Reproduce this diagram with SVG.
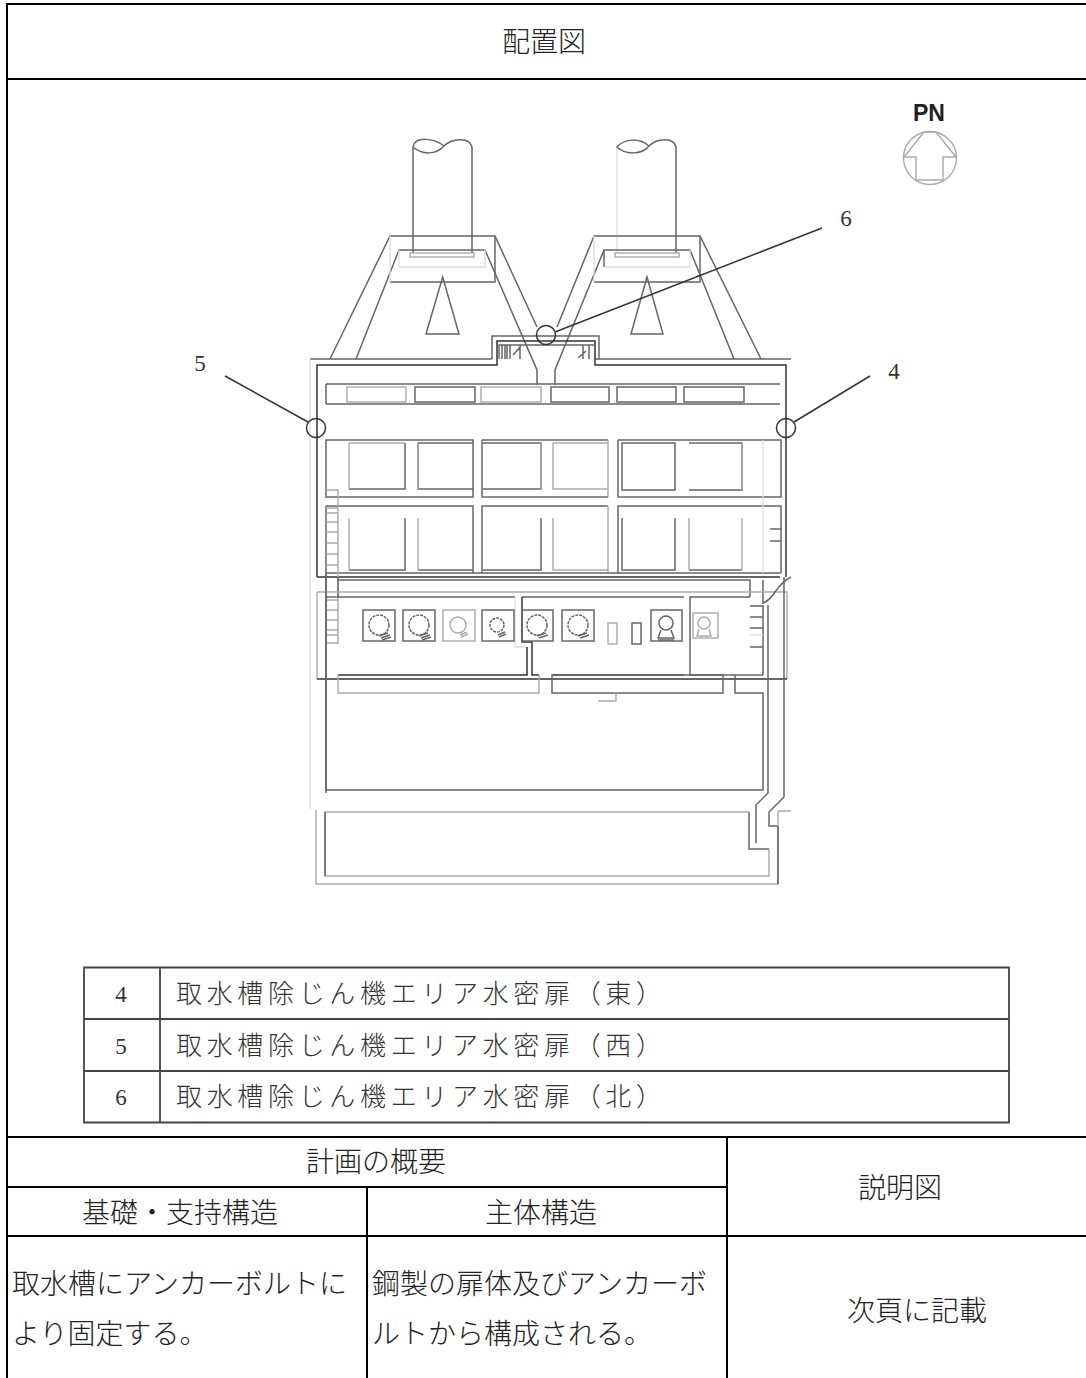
<svg xmlns="http://www.w3.org/2000/svg" width="1086" height="1378" viewBox="0 0 1086 1378">
<style>
.j{font-family:"Noto Sans CJK JP","Liberation Serif",serif;font-size:28px;fill:#222;font-weight:300}
.n{font-family:"Liberation Serif",serif;font-size:23px;fill:#333;text-anchor:middle}
.k{font-family:"Noto Sans CJK JP",serif;font-size:26px;fill:#333;font-weight:300}
.m{text-anchor:middle}
.d{fill:none;stroke:#666;stroke-width:1.5}
.l{fill:none;stroke:#aaa;stroke-width:1.4}
.x{fill:none;stroke:#ddd;stroke-width:1.3}
.b{fill:none;stroke:#333;stroke-width:1.5}
.t{stroke:#000;stroke-width:2;fill:none}
</style>
<rect width="1086" height="1378" fill="#fff"/>
<g id="frame">
<path class="t" d="M7 4H1086M7 3V1378M7 79H1086M7 1137H1086M7 1187H727M367 1187V1378M727 1137V1378M7 1236H1086"/>
</g>
<g id="titles">
<text class="j m" x="544" y="52">配置図</text>
<text class="j m" x="376" y="1172">計画の概要</text>
<text class="j m" x="180" y="1223">基礎・支持構造</text>
<text class="j m" x="541" y="1223">主体構造</text>
<text class="j m" x="900" y="1198">説明図</text>
<text class="j" x="12" y="1294">取水槽にアンカーボルトに</text>
<text class="j" x="12" y="1344">より固定する。</text>
<text class="j" x="372" y="1294">鋼製の扉体及びアンカーボ</text>
<text class="j" x="372" y="1344">ルトから構成される。</text>
<text class="j m" x="917" y="1321">次頁に記載</text>
</g>
<g id="north">
<text x="929" y="121" text-anchor="middle" font-family="Liberation Sans,sans-serif" font-weight="700" font-size="23" fill="#222">PN</text>
<circle class="l" cx="930" cy="158" r="26.5"/>
<path class="l" d="M924 132H936L956 157H943V180H916V157H904Z"/>
</g>
<g id="plan">
<path class="d" d="M413 147V253M472 147V253"/>
<path class="d" d="M413 147C415 136 434 138 444 146C452 138 470 137 472 147M413 147C422 155 436 155 444 146"/>
<path class="x" d="M617 147V253"/>
<path class="d" d="M676 147V253M676 147C674 137 657 138 649 146C642 155 625 155 617 147C625 138 640 138 649 146"/>
<path class="d" d="M330 359L390 236H495L537 327M356 359L399 250H485L537 370V385"/>
<path class="d" d="M390 282H495V236"/>
<path class="x" d="M390 236V282M399 250V267H485V250"/>
<rect class="l" x="410" y="253" width="64" height="4"/>
<path class="d" d="M761 359L700 236H594L557 327M734 359L690 250H604L555 370V385"/>
<path class="d" d="M594 282H700V236M604 250V267"/>
<path class="x" d="M594 236V282M604 267H690V250"/>
<rect class="l" x="615" y="253" width="64" height="4"/>
<path class="d" d="M442.700 277L426 334H459ZM647 277L631 334H663Z"/>
<path class="d" d="M310 359H492M595 359H791"/>
<path class="d" d="M492 359V336H599V359"/>
<path class="b" d="M317 577V365H497V341H595V365H786V577M317 577H780"/>
<path class="x" d="M310 359V809"/>
<path class="d" d="M499 359V345H594M502 359V345M505 359V345M507 359V345M510 359V345M520 359V345M513 355L521 346M583 359V345M589 359V345M586 351L578 358"/>
<path class="d" d="M326 384H780M326 404H780M326 384V404"/>
<rect class="l" x="347" y="387" width="59" height="15"/>
<rect class="d" x="415" y="387" width="60" height="15"/>
<rect class="l" x="481" y="387" width="60" height="15"/>
<rect class="d" x="551" y="387" width="58" height="15"/>
<rect class="d" x="617" y="387" width="59" height="15"/>
<rect class="d" x="684" y="387" width="60" height="15"/>
<path class="d" d="M326 497V440H473V497ZM482 440H608M618 440H781V497H618V440M482 440V497H608M326 506H473V573M482 573V506H608M618 573V506H781V573M326 506V793"/>
<path class="l" d="M608 440V497M608 506V573"/>
<path class="d" d="M326 573H781"/>
<path class="x" d="M763 440V573"/>
<path class="d" d="M405 443V489H349M622 443H675V490H622ZM689 443H742V490H689M473 443H418V489H473M483 489H541V443H483"/>
<path class="l" d="M349 443V489M349 443H405M418 443V489M541 443V489M553 443H608M553 443V489H608M742 443V490"/>
<path class="d" d="M405 518V570H349M473 570H418M483 570H541V518M622 518V570H675V518M689 570H742"/>
<path class="l" d="M349 518V570M418 518V570M553 518V570H608M689 518V570M742 518V570"/>
<path class="l" d="M326 490H338V643H326M326 508H338M326 513H338M326 522H338M326 532H338M326 543H338M326 554H338M326 565H338M326 600H338M326 610H338M326 620H338M326 630H338M326 635H338"/>
<path class="d" d="M338 577V597M770 529H781M770 541H781"/>
<path class="d" d="M338 580H750V597M763 580V604"/>
<path class="l" d="M317 592H787V679M317 592V679"/>
<path class="b" d="M317 679H787"/>
<path class="d" d="M326 597H515M522 597H684"/>
<path class="x" d="M515 597V647H527"/>
<path class="b" d="M527 647V675H338M522 597V642H532V675H539M553 675H684"/>
<path class="d" d="M750 597H690V675H763M763 605V675M750 606H763M750 617H763M750 628H763M750 647H763"/>
<path class="x" d="M750 635H763"/>
<path class="d" d="M763 603C768 601 772 597 775 592C780 585 785 580 791 577"/>
<path class="l" d="M338 675V693H539V675"/>
<rect class="d" x="552" y="675" width="171" height="18"/>
<path class="l" d="M598 701H616V693"/>
<path class="d" d="M735 675V693H763V790H326V573M768 605V793L756 805V843M784 577V797L769 812V826H778M749 812V849H769"/>
<path class="l" d="M769 849V876H325V812H749M778 811H791M778 811V884H316V810"/>
<path class="d" d="M325 812V876M778 826V884"/>
<g id="pumps">
<g class="d"><rect x="363" y="610" width="32" height="31"/><circle cx="379" cy="625" r="10" stroke-dasharray="3 1"/><path d="M379 636L388 633M381 638L390 635M382 640L391 637"/></g>
<g class="d"><rect x="403" y="610" width="32" height="31"/><circle cx="419" cy="625" r="10" stroke-dasharray="3 1"/><path d="M419 636L428 633M421 638L430 635M422 640L431 637"/></g>
<g class="l"><rect x="443" y="610" width="32" height="31"/><circle cx="458" cy="625" r="8"/><path d="M460 635L467 632M461 637L468 634"/></g>
<g class="d"><rect x="482" y="610" width="32" height="31"/><circle cx="497" cy="625" r="7" stroke-dasharray="3 1"/><path d="M498 635L505 632M499 637L506 634"/></g>
<g class="d"><rect x="522" y="610" width="31" height="31"/><circle cx="537" cy="625" r="10" stroke-dasharray="3 1"/><path d="M537 636L546 633M539 638L548 635"/></g>
<g class="d"><rect x="562" y="610" width="32" height="31"/><circle cx="578" cy="625" r="10" stroke-dasharray="3 1"/><path d="M578 636L587 633M580 638L589 635"/></g>
<rect class="l" x="608" y="623" width="9" height="21"/>
<rect class="d" x="632" y="623" width="9" height="21"/>
<g class="d"><rect x="651" y="610" width="31" height="31"/><circle cx="666" cy="623" r="7"/><path d="M661 630L658 638H674L671 630M658 640H674"/></g>
<g class="l"><rect x="693" y="613" width="25" height="25"/><circle cx="704" cy="623" r="6"/><path d="M699 629L697 636H711L709 629"/></g>
</g>
</g>
<g id="connectors">
<path class="b" d="M225 376L308 422M870 376L794 422M822 228L555 332"/>
</g>
<g id="node-4"><circle class="b" cx="786" cy="428" r="9.500"/><text class="n" x="894" y="379">4</text></g>
<g id="node-5"><circle class="b" cx="316" cy="428" r="9.500"/><text class="n" x="200" y="371">5</text></g>
<g id="node-6"><circle class="b" cx="546" cy="335" r="9.500"/><text class="n" x="846" y="226">6</text></g>
<g id="legend">
<path d="M84 967.500H1009V1122.500H84ZM160 967.500V1122.500M84 1019H1009M84 1071H1009" fill="none" stroke="#444" stroke-width="1.800"/>
<text class="n" x="121" y="1002">4</text>
<text class="n" x="121" y="1054">5</text>
<text class="n" x="121" y="1105">6</text>
<text class="k" x="176" y="1003" textLength="486">取水槽除じん機エリア水密扉（東）</text>
<text class="k" x="176" y="1055" textLength="486">取水槽除じん機エリア水密扉（西）</text>
<text class="k" x="176" y="1106" textLength="486">取水槽除じん機エリア水密扉（北）</text>
</g>
</svg>
